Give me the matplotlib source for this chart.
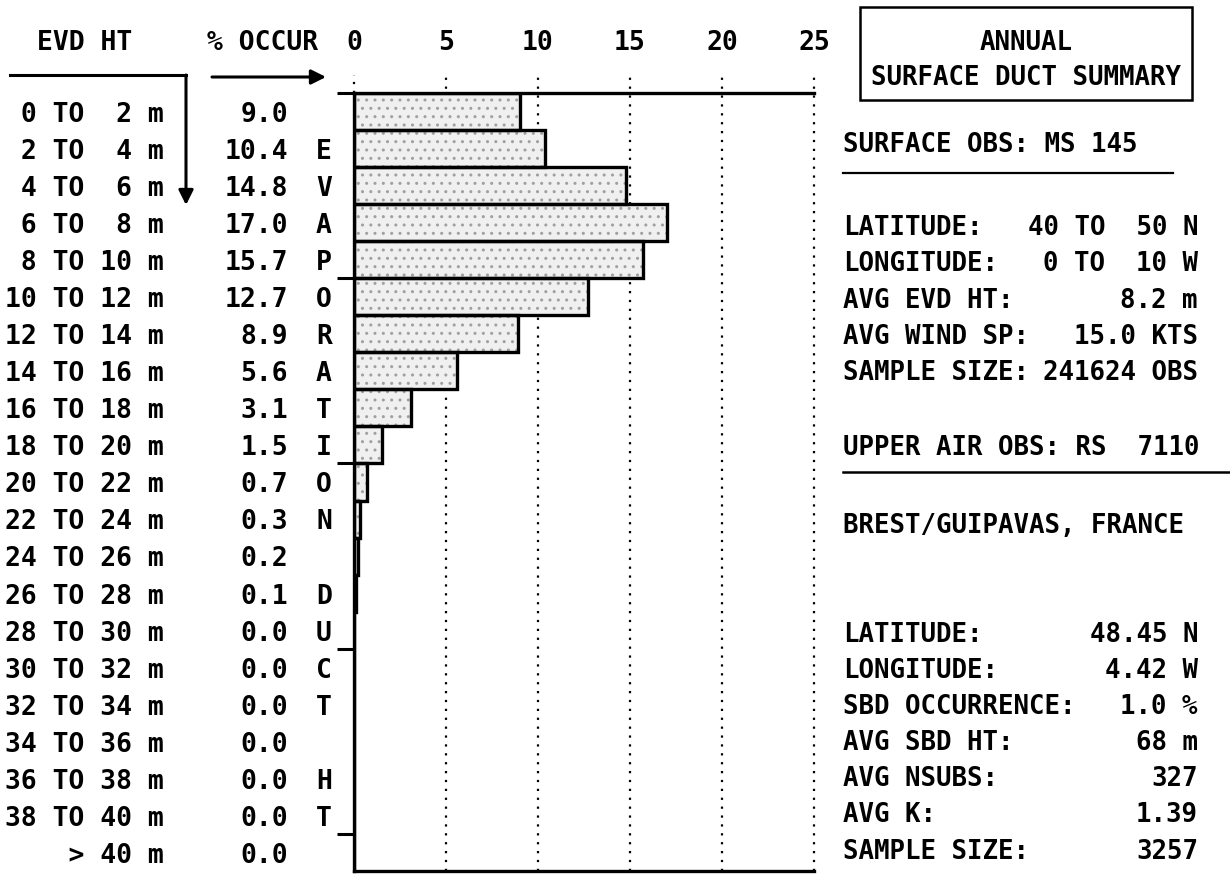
import matplotlib
matplotlib.use("Agg")
import matplotlib.pyplot as plt
import matplotlib.transforms as mtrans
from matplotlib.lines import Line2D

# ---------------- data ----------------
range_labels = [" 0 TO  2 m", " 2 TO  4 m", " 4 TO  6 m", " 6 TO  8 m", " 8 TO 10 m",
                "10 TO 12 m", "12 TO 14 m", "14 TO 16 m", "16 TO 18 m", "18 TO 20 m",
                "20 TO 22 m", "22 TO 24 m", "24 TO 26 m", "26 TO 28 m", "28 TO 30 m",
                "30 TO 32 m", "32 TO 34 m", "34 TO 36 m", "36 TO 38 m", "38 TO 40 m",
                "    > 40 m"]
occurrence = [9.0, 10.4, 14.8, 17.0, 15.7, 12.7, 8.9, 5.6, 3.1, 1.5,
              0.7, 0.3, 0.2, 0.1, 0.0, 0.0, 0.0, 0.0, 0.0, 0.0, 0.0]
side_letters = ["", "E", "V", "A", "P", "O", "R", "A", "T", "I", "O", "N", "",
                "D", "U", "C", "T", "", "H", "T", ""]
x_ticks = [0, 5, 10, 15, 20, 25]

title_lines = ["ANNUAL", "SURFACE DUCT SUMMARY"]
surface_header = "SURFACE OBS: MS 145"
surface_labels = ["LATITUDE:", "LONGITUDE:", "AVG EVD HT:", "AVG WIND SP:", "SAMPLE SIZE:"]
surface_values = ["40 TO  50 N", "0 TO  10 W", "8.2 m", "15.0 KTS", "241624 OBS"]
upper_header = "UPPER AIR OBS: RS  7110"
station_name = "BREST/GUIPAVAS, FRANCE"
upper_labels = ["LATITUDE:", "LONGITUDE:", "SBD OCCURRENCE:", "AVG SBD HT:",
                "AVG NSUBS:", "AVG K:", "SAMPLE SIZE:"]
upper_values = ["48.45 N", "4.42 W", "1.0 %", "68 m", "327", "1.39", "3257"]

# ---------------- figure ----------------
W, H = 1230, 875
fig = plt.figure(figsize=(W / 100, H / 100), dpi=100)
fig.patch.set_facecolor("white")

FONT = dict(family="DejaVu Sans Mono", fontweight="bold", fontsize=19, color="black")
RFONT = dict(FONT, fontsize=18.5)


def fx(px):
    return px / W


def fy(py):
    return 1 - py / H


ax_left, ax_right, ax_top, ax_bot = 354, 814, 93, 871
ax = fig.add_axes([fx(ax_left), fy(ax_bot), fx(ax_right) - fx(ax_left), (ax_bot - ax_top) / H])

n = len(occurrence)
ypos = [i for i in range(n)]
# stipple fill
ax.barh(ypos, occurrence, height=1.0, align="edge", facecolor="#f0f0f0",
        edgecolor="#a0a0a0", hatch="..", linewidth=0, zorder=2)
# outlines
ax.barh(ypos, occurrence, height=1.0, align="edge", facecolor="none",
        edgecolor="black", linewidth=2.4, zorder=3)

ax.set_xlim(0, 25)
ax.set_ylim(n, 0)

# dotted grid lines extending above the top
ext = 1 + 18 / (ax_bot - ax_top)
for xv in x_ticks[1:]:
    ax.axvline(xv, ymin=0, ymax=ext, color="black", linestyle=(0, (1, 3)),
               linewidth=1.6, clip_on=False, zorder=1)
ax.axvline(0, ymin=1, ymax=ext, color="black", linestyle=(0, (1, 3)),
           linewidth=1.6, clip_on=False, zorder=1)

for side in ["left", "top", "bottom"]:
    ax.spines[side].set_linewidth(2.4)
ax.spines["right"].set_visible(False)

ax.xaxis.tick_top()
ax.set_xticks(x_ticks)
ax.set_xticklabels([str(t) for t in x_ticks], **FONT)
ax.tick_params(axis="x", length=0, pad=27)
ax.set_yticks([0, 5, 10, 15, 20])
ax.set_yticklabels([])
ax.tick_params(axis="y", direction="out", length=12, width=2.2)

# row texts
tr = mtrans.blended_transform_factory(fig.transFigure, ax.transData)
for i in range(n):
    yb = i + 0.78
    fig.text(fx(5), yb, range_labels[i], transform=tr, ha="left", va="baseline", **FONT)
    fig.text(fx(288), yb, f"{occurrence[i]:.1f}", transform=tr, ha="right", va="baseline", **FONT)
    if side_letters[i]:
        fig.text(fx(324), yb, side_letters[i], transform=tr, ha="center", va="baseline", **FONT)

# headers
fig.text(fx(85), fy(50), "EVD HT", ha="center", va="baseline", **FONT)
fig.text(fx(263), fy(50), "% OCCUR", ha="center", va="baseline", **FONT)

# arrows
fig.add_artist(Line2D([fx(10), fx(186)], [fy(75), fy(75)], color="black", lw=2.2))
ax.annotate("", xy=(186, H - 205), xytext=(186, H - 75), xycoords="figure pixels",
            textcoords="figure pixels",
            arrowprops=dict(arrowstyle="-|>", lw=2.2, color="black", mutation_scale=22,
                            shrinkA=0, shrinkB=0))
ax.annotate("", xy=(326, H - 77), xytext=(212, H - 77), xycoords="figure pixels",
            textcoords="figure pixels",
            arrowprops=dict(arrowstyle="-|>", lw=2.2, color="black", mutation_scale=22,
                            shrinkA=0, shrinkB=0))

# right panel
box = plt.Rectangle((fx(860), fy(100)), fx(1192) - fx(860), (100 - 7) / H,
                    transform=fig.transFigure, fill=False, edgecolor="black", lw=1.8)
fig.add_artist(box)
fig.text(fx(1026), fy(50), title_lines[0], ha="center", va="baseline", **RFONT)
fig.text(fx(1026), fy(85), title_lines[1], ha="center", va="baseline", **RFONT)

LX, RX = 843, 1198
fig.text(fx(LX), fy(152), surface_header, ha="left", va="baseline", **RFONT)
fig.add_artist(Line2D([fx(843), fx(1173)], [fy(173), fy(173)], color="black", lw=1.6))
for k, (lab, val) in enumerate(zip(surface_labels, surface_values)):
    yb = 235 + k * 36.3
    fig.text(fx(LX), fy(yb), lab, ha="left", va="baseline", **RFONT)
    fig.text(fx(RX), fy(yb), val, ha="right", va="baseline", **RFONT)

fig.text(fx(LX), fy(455), upper_header, ha="left", va="baseline", **RFONT)
fig.add_artist(Line2D([fx(843), fx(1230)], [fy(472), fy(472)], color="black", lw=1.8))
fig.text(fx(LX), fy(533), station_name, ha="left", va="baseline", **RFONT)
for k, (lab, val) in enumerate(zip(upper_labels, upper_values)):
    yb = 642 + k * 36.1
    fig.text(fx(LX), fy(yb), lab, ha="left", va="baseline", **RFONT)
    fig.text(fx(RX), fy(yb), val, ha="right", va="baseline", **RFONT)

fig.savefig("out.png", dpi=100, facecolor="white")
